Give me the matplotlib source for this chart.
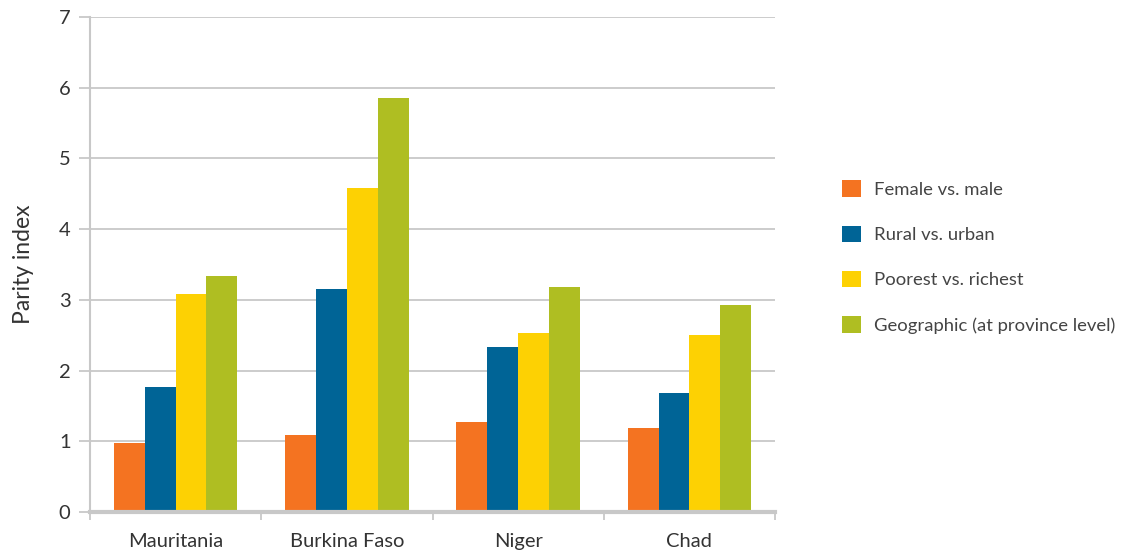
import numpy as np
import matplotlib.pyplot as plt
from matplotlib.ticker import FixedLocator

countries = ['Mauritania', 'Burkina Faso', 'Niger', 'Chad']
series = ['Female vs. male', 'Rural vs. urban', 'Poorest vs. richest',
          'Geographic (at province level)']
female = [0.97, 1.09, 1.27, 1.19]
rural = [1.77, 3.15, 2.33, 1.68]
poorest = [3.08, 4.58, 2.53, 2.50]
geographic = [3.34, 5.86, 3.18, 2.93]
colors = ['#F47321', '#006496', '#FDD103', '#AFBE22']

plt.rcParams['font.family'] = ['Lato', 'DejaVu Sans']

fig = plt.figure(figsize=(11.21, 5.55), dpi=100)
ax = fig.add_axes([90/1121, 43/555, 685/1121, 495/555])

x = np.arange(len(countries))
w = 0.18
for i, (vals, lab) in enumerate(zip([female, rural, poorest, geographic], series)):
    ax.bar(x + (i - 1.5) * w, vals, width=w, color=colors[i], label=lab, zorder=3)

ax.set_xlim(-0.5, 3.5)
ax.set_ylim(0, 7)
ax.set_yticks(range(0, 8))
ax.yaxis.grid(True, color='#c8c8c8', linewidth=1.3, zorder=0)
ax.set_xticks(x)
ax.set_xticklabels(countries, fontsize=14.5, color='#333333')
ax.xaxis.set_minor_locator(FixedLocator([-0.5, 0.5, 1.5, 2.5, 3.5]))
ax.tick_params(axis='x', which='major', length=0, pad=15)
ax.tick_params(axis='x', which='minor', length=6, width=1.3, color='#c8c8c8')
ax.tick_params(axis='y', length=8, width=1.3, color='#c8c8c8', labelsize=14.5,
               labelcolor='#333333', pad=6)

for s in ['top', 'right']:
    ax.spines[s].set_visible(False)
ax.spines['left'].set_color('#c8c8c8')
ax.spines['left'].set_linewidth(1.5)
ax.spines['bottom'].set_color('#c8c8c8')
ax.spines['bottom'].set_linewidth(3)
ax.spines['bottom'].set_zorder(4)

ax.set_ylabel('Parity index', fontsize=16.5, color='#333333', labelpad=18)

fig.legend(loc='center left', bbox_to_anchor=(833/1121, 1 - 257/555), frameon=False,
           fontsize=13.3, handlelength=1.0, handleheight=1.0, labelspacing=1.5,
           handletextpad=0.7, borderpad=0, labelcolor='#444444')

fig.savefig('out.png', dpi=100)
